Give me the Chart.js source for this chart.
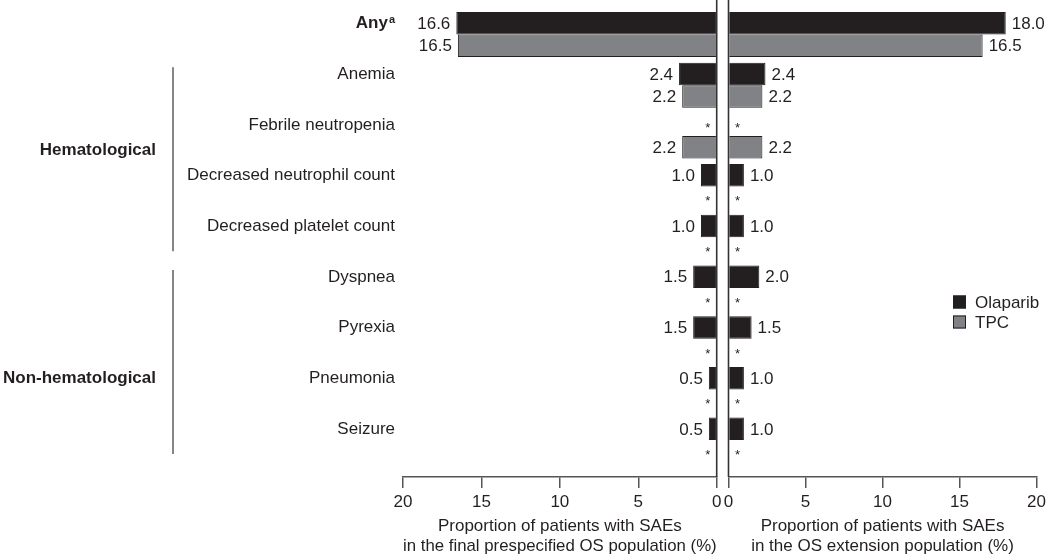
<!DOCTYPE html>
<html>
<head>
<meta charset="utf-8">
<script src="https://cdn.jsdelivr.net/npm/chart.js@4.4.0/dist/chart.umd.min.js"></script>
<style>
  body { margin: 0; background: #fff; }
  #wrap { position: relative; width: 1050px; height: 557px; }
  #wrap canvas { position: absolute; left: 0; top: 0; }
</style>
</head>
<body>
<div id="wrap">
  <canvas id="left-chart" width="1050" height="557"></canvas>
  <canvas id="right-chart" width="1050" height="557"></canvas>
</div>
<script>
const categories = ['Any', 'Anemia', 'Febrile neutropenia', 'Decreased neutrophil count',
  'Decreased platelet count', 'Dyspnea', 'Pyrexia', 'Pneumonia', 'Seizure'];
// null = no event, drawn as *
const olaparibFinal = [16.6, 2.4, null, 1.0, 1.0, 1.5, 1.5, 0.5, 0.5];
const tpcFinal = [16.5, 2.2, 2.2, null, null, null, null, null, null];
const olaparibExt = [18.0, 2.4, null, 1.0, 1.0, 2.0, 1.5, 1.0, 1.0];
const tpcExt = [16.5, 2.2, 2.2, null, null, null, null, null, null];
const xTicks = [0, 5, 10, 15, 20];
const groupNames = ['Hematological', 'Non-hematological'];
const groupFirst = [1, 5];
const groupLast = [4, 8];

const ink = '#231f20';
const font = (size, weight) => (weight || 'normal') + ' ' + size + 'px "Liberation Sans", Arial, sans-serif';
Chart.defaults.font.family = '"Liberation Sans", Arial, sans-serif';
Chart.defaults.color = ink;

function buildData(olaparib, tpc) {
  return {
    datasets: [{
      label: 'Olaparib',
      data: olaparib.map((v, i) => ({ x: v, y: i })),
      backgroundColor: '#231f20',
      borderColor: '#231f20',
      borderWidth: 1
    }, {
      label: 'TPC',
      data: tpc.map((v, i) => ({ x: v, y: i })),
      backgroundColor: '#808285',
      borderColor: '#231f20',
      borderWidth: 1
    }]
  };
}

function xScale(reverse, title) {
  return {
    type: 'linear',
    min: 0,
    max: 20,
    reverse: reverse,
    afterBuildTicks: s => { s.ticks = xTicks.map(v => ({ value: v })); },
    afterFit: s => { s.height = 80; },
    border: { display: true, color: '#555', width: 1.5 },
    grid: { drawOnChartArea: false, drawTicks: true, tickLength: 11, color: '#555', lineWidth: 1.5 },
    ticks: { color: ink, font: { size: 17 }, padding: 4, autoSkip: false, maxRotation: 0 },
    title: { display: true, text: title, color: ink, font: { size: 17, lineHeight: 1.22 }, padding: { top: 0, bottom: 0 } }
  };
}

// one row per category, index 0 at top
const yScale = {
  type: 'linear',
  min: -0.68,
  max: 8.728,
  bounds: 'data',
  offset: false,
  grid: { offset: false },
  reverse: true,
  display: false,
  afterBuildTicks: s => { s.ticks = categories.map((c, i) => ({ value: i })); }
};

// value labels and * for empty bars
function valueLabels(side) {
  return {
    id: 'valueLabels',
    afterDatasetsDraw(chart) {
      const ctx = chart.ctx;
      const zeroX = chart.scales.x.getPixelForValue(0);
      ctx.save();
      ctx.fillStyle = ink;
      ctx.textBaseline = 'middle';
      chart.data.datasets.forEach((ds, di) => {
        chart.getDatasetMeta(di).data.forEach((bar, i) => {
          const v = ds.data[i].x;
          const y = chart.scales.y.getPixelForValue(i) + (di === 0 ? -11.25 : 11.25);
          if (v === null) {
            ctx.font = font(13);
            ctx.textAlign = 'center';
            ctx.fillText('*', zeroX + side * 9, y + 4);
          } else {
            ctx.font = font(17);
            ctx.textAlign = side < 0 ? 'right' : 'left';
            ctx.fillText(v.toFixed(1), bar.x + side * 6, y + 1);
          }
        });
      });
      ctx.restore();
    }
  };
}

const zeroLine = {
  id: 'zeroLine',
  afterDraw(chart) {
    const ctx = chart.ctx;
    const x = chart.scales.x.getPixelForValue(0);
    ctx.save();
    ctx.strokeStyle = '#333';
    ctx.lineWidth = 1.6;
    ctx.beginPath();
    ctx.moveTo(x, 0);
    ctx.lineTo(x, chart.chartArea.bottom);
    ctx.stroke();
    ctx.restore();
  }
};

const categoryLabels = {
  id: 'categoryLabels',
  afterDraw(chart) {
    const ctx = chart.ctx;
    const ys = chart.scales.y;
    const right = 395;
    ctx.save();
    ctx.fillStyle = ink;
    ctx.textBaseline = 'middle';
    ctx.textAlign = 'right';
    categories.forEach((c, i) => {
      const y = ys.getPixelForValue(i) - 11;
      if (i === 0) {
        ctx.font = font(11, 'bold');
        const supW = ctx.measureText('a').width;
        ctx.fillText('a', right, y - 4);
        ctx.font = font(17, 'bold');
        ctx.fillText(c, right - supW - 1, y);
      } else {
        ctx.font = font(17);
        ctx.fillText(c, right, y);
      }
    });

    // group brackets
    const labelRows = [2.5, 7];
    ctx.strokeStyle = '#444';
    ctx.lineWidth = 1.3;
    groupNames.forEach((g, k) => {
      const top = ys.getPixelForValue(groupFirst[k]) - 18;
      const bottom = ys.getPixelForValue(groupLast[k]) + 14;
      ctx.beginPath();
      ctx.moveTo(173, top);
      ctx.lineTo(173, bottom);
      ctx.stroke();
      ctx.font = font(17, 'bold');
      ctx.fillText(g, 156, ys.getPixelForValue(labelRows[k]) - 11);
    });
    ctx.restore();
  }
};

const sideLegend = {
  id: 'sideLegend',
  afterDraw(chart) {
    const ctx = chart.ctx;
    ctx.save();
    ctx.textBaseline = 'middle';
    ctx.textAlign = 'left';
    ctx.font = font(17);
    chart.data.datasets.forEach((ds, i) => {
      const y = 302 + i * 20;
      ctx.fillStyle = ds.backgroundColor;
      ctx.fillRect(953, y - 6.5, 13, 13);
      ctx.strokeStyle = ink;
      ctx.lineWidth = 1;
      ctx.strokeRect(953.5, y - 6, 12, 12);
      ctx.fillStyle = ink;
      ctx.fillText(ds.label, 975, y + 1);
    });
    ctx.restore();
  }
};

function makeChart(id, data, reverse, title, padding, plugins) {
  return new Chart(document.getElementById(id), {
    type: 'bar',
    data: data,
    options: {
      indexAxis: 'y',
      responsive: false,
      animation: false,
      categoryPercentage: 0.888,
      barPercentage: 1.0,
      layout: { padding: padding },
      scales: { x: xScale(reverse, title), y: yScale },
      plugins: { legend: { display: false }, tooltip: { enabled: false } }
    },
    plugins: plugins
  });
}

makeChart('left-chart', buildData(olaparibFinal, tpcFinal), true,
  ['Proportion of patients with SAEs', 'in the final prespecified OS population (%)'],
  { left: 403, right: 333.3, top: 0, bottom: 0 },
  [valueLabels(-1), zeroLine, categoryLabels]);

makeChart('right-chart', buildData(olaparibExt, tpcExt), false,
  ['Proportion of patients with SAEs', 'in the OS extension population (%)'],
  { left: 728.5, right: 9, top: 0, bottom: 0 },
  [valueLabels(1), zeroLine, sideLegend]);
</script>
</body>
</html>
